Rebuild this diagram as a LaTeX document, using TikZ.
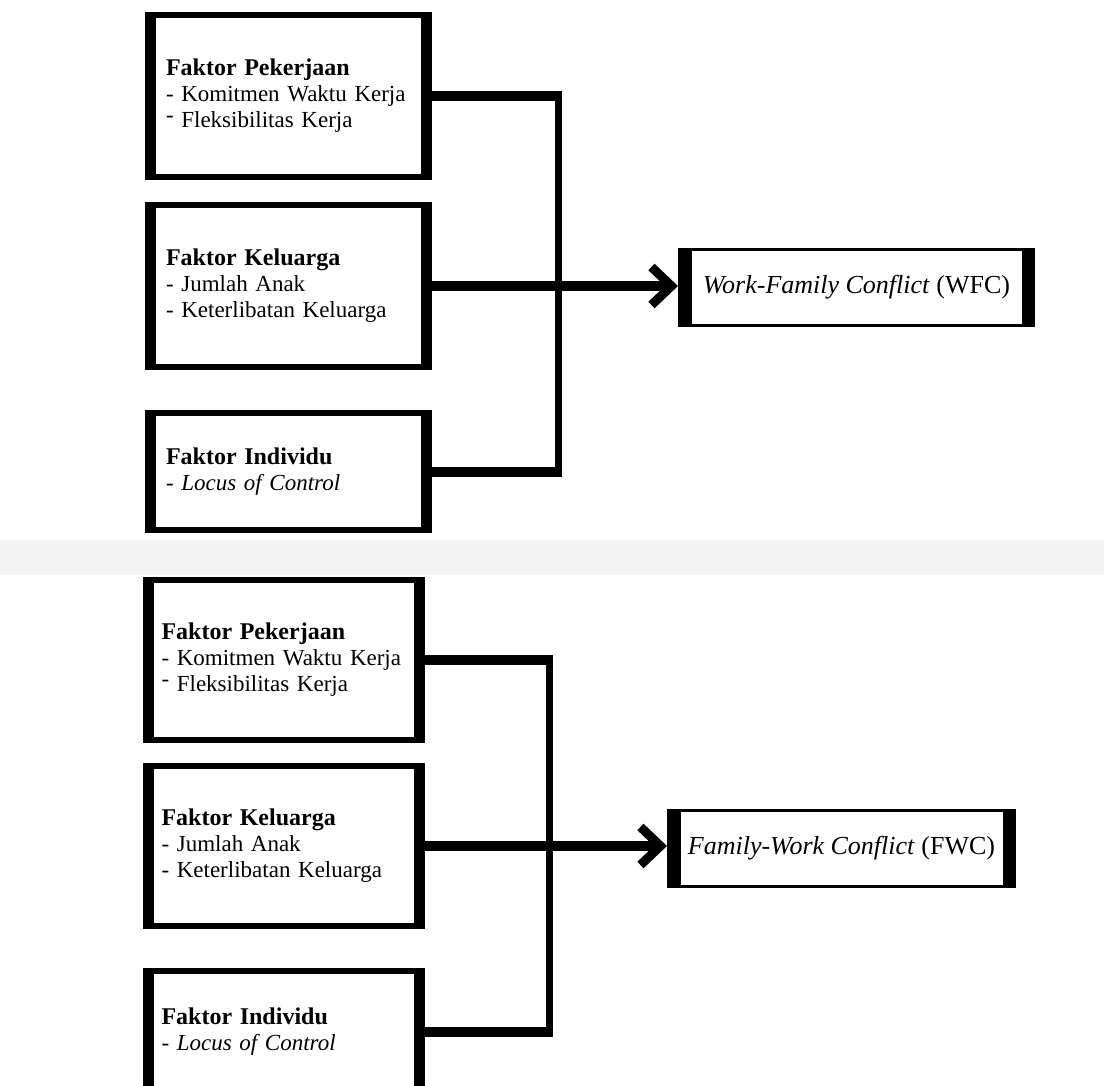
\documentclass[tikz,border=0pt]{standalone}
\usepackage{fontspec}
\setmainfont{Liberation Serif}
\usepackage{tikz}
\usetikzlibrary{arrows.meta}
\tikzset{
faktor/.style={
 draw=black,
 line width=6pt,
 minimum width=281pt,
 minimum height=162pt,
 text width=245pt,
 align=left,
 inner sep=0pt,
 font=\fontsize{23}{26}\selectfont
 },
hasil/.style={
 draw=black,
 line width=3pt,
 minimum height=76pt,
 inner sep=0pt,
 font=\fontsize{26}{30}\selectfont
 },
sisi/.style={
 draw=black,
 line width=#1
 },
sisi/.default={11pt},
garis/.style={
 draw=black,
 line width=10pt
 },
tegak/.style={
 draw=black,
 line width=7pt,
 line cap=rect
 },
panah/.style={
 draw=black,
 line width=10pt,
 -{Straight Barb[length=20pt,width=38pt,line width=9pt,sharp]}
 }
}
\newcommand{\judul}[1]{{\bfseries\fontsize{24}{26}\selectfont #1}}
\newcommand{\naik}{\raisebox{5pt}{-}}

\begin{document}
\begin{tikzpicture}[x=1pt,y=-1pt]
\useasboundingbox (0,0) rectangle (1104,1086);
\clip (0,0) rectangle (1104,1086);
\fill[gray!9] (0,540) rectangle (1104,575);

% WFC
\node[faktor] (pk1) at (288.5,96) {\judul{Faktor Pekerjaan}\\- Komitmen Waktu Kerja\\\naik{} Fleksibilitas Kerja};
\node[faktor] (kl1) at (288.5,286) {\judul{Faktor Keluarga}\\- Jumlah Anak\\- Keterlibatan Keluarga};
\node[faktor,minimum height=117pt] (in1) at (288.5,471.5) {\judul{Faktor Individu}\\- \textit{Locus of Control}};
\node[hasil,minimum width=354pt] (wfc) at (856.5,287.5) {\textit{Work-Family Conflict} (WFC)};
\coordinate (j1) at (558.5,0);
\draw[garis] (pk1.east) -- ([xshift=3.5pt]pk1.east -| j1);
\draw[tegak] (pk1.east -| j1) -- (in1.east -| j1);
\draw[garis] (in1.east) -- ([xshift=3.5pt]in1.east -| j1);
\draw[panah] (kl1.east) -- (kl1.east -| wfc.west);

% FWC
\node[faktor,minimum width=276pt,minimum height=160pt] (pk2) at (284,660) {\judul{Faktor Pekerjaan}\\- Komitmen Waktu Kerja\\\naik{} Fleksibilitas Kerja};
\node[faktor,minimum width=276pt,minimum height=160pt] (kl2) at (284,846) {\judul{Faktor Keluarga}\\- Jumlah Anak\\- Keterlibatan Keluarga};
\node[faktor,minimum width=276pt,minimum height=122pt] (in2) at (284,1032) {\judul{Faktor Individu}\\- \textit{Locus of Control}};
\node[hasil,minimum width=346pt] (fwc) at (841.5,848.5) {\textit{Family-Work Conflict} (FWC)};
\coordinate (j2) at (549,0);
\draw[garis] (pk2.east) -- ([xshift=3.5pt]pk2.east -| j2);
\draw[tegak] (pk2.east -| j2) -- (in2.east -| j2);
\draw[garis] (in2.east) -- ([xshift=3.5pt]in2.east -| j2);
\draw[panah] (kl2.east) -- (kl2.east -| fwc.west);

% thick sides
\foreach \b in {pk1,kl1,in1,pk2,kl2,in2}{
  \draw[sisi] ([xshift=5.5pt]\b.north west) -- ([xshift=5.5pt]\b.south west);
  \draw[sisi] ([xshift=-5.5pt]\b.north east) -- ([xshift=-5.5pt]\b.south east);
}
\foreach \b in {wfc,fwc}{
  \draw[sisi=13.5pt] ([xshift=6.75pt]\b.north west) -- ([xshift=6.75pt]\b.south west);
  \draw[sisi=13.5pt] ([xshift=-6.75pt]\b.north east) -- ([xshift=-6.75pt]\b.south east);
}
\end{tikzpicture}
\end{document}
